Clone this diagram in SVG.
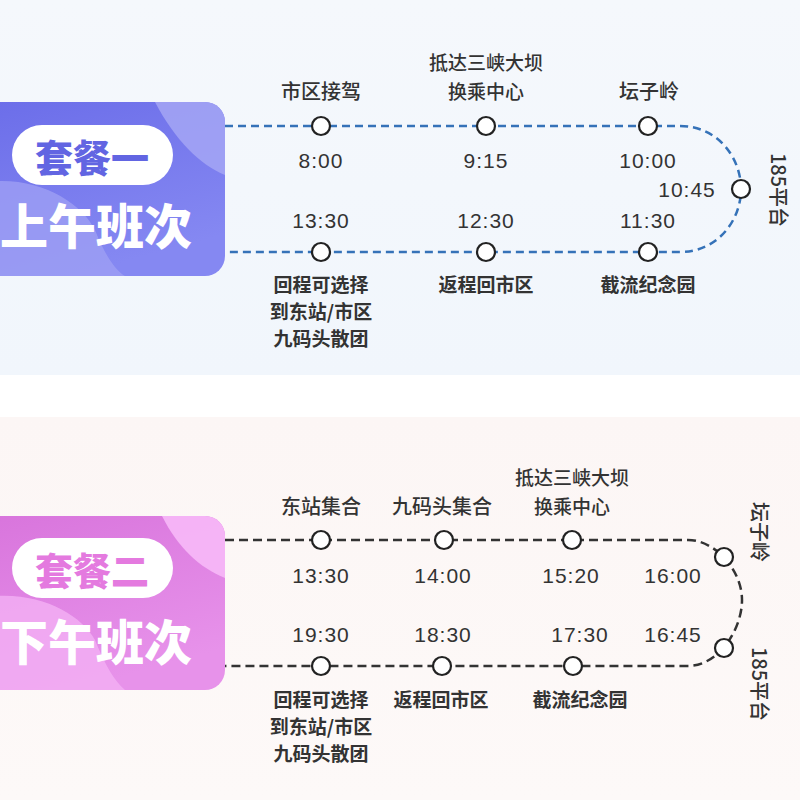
<svg xmlns="http://www.w3.org/2000/svg" width="800" height="800" viewBox="0 0 800 800">
<defs>
<linearGradient id="bgTop" x1="0" y1="0" x2="0" y2="1"><stop offset="0" stop-color="#f5f8fc"/><stop offset="1" stop-color="#f1f6fc"/></linearGradient>
<linearGradient id="bgBot" x1="0" y1="0" x2="0" y2="1"><stop offset="0" stop-color="#fcf6f5"/><stop offset="1" stop-color="#fdf9f8"/></linearGradient>
<linearGradient id="cardA" x1="0" y1="0" x2="0.4" y2="1"><stop offset="0" stop-color="#6b6de9"/><stop offset="1" stop-color="#8588f2"/></linearGradient>
<linearGradient id="cardB" x1="0" y1="0" x2="0.4" y2="1"><stop offset="0" stop-color="#d874dc"/><stop offset="1" stop-color="#e792ea"/></linearGradient>
<clipPath id="clipA"><rect x="-30" y="102" width="255" height="174" rx="20"/></clipPath>
<clipPath id="clipB"><rect x="-30" y="516" width="255" height="174" rx="20"/></clipPath>
<style>
.lbl{font-family:"Noto Sans CJK SC","Noto Sans",sans-serif;font-size:20px;fill:#333;text-anchor:middle;font-weight:500}
.lbl2{font-family:"Noto Sans CJK SC","Noto Sans",sans-serif;font-size:19px;fill:#333;text-anchor:middle;font-weight:500}
.sub{font-family:"Noto Sans CJK SC","Noto Sans",sans-serif;font-size:19px;fill:#333;text-anchor:middle;font-weight:700}
.tm{font-family:"Liberation Sans","DejaVu Sans",sans-serif;font-size:21px;fill:#333;text-anchor:middle;letter-spacing:1px}
.stopA{fill:#fff;stroke:#222;stroke-width:2.2}
.lineA{fill:none;stroke:#3572b8;stroke-width:2.5;stroke-dasharray:8 5}
.lineB{fill:none;stroke:#333;stroke-width:2.5;stroke-dasharray:9 5}
.pill{fill:#fff}
.ttl{font-family:"Noto Sans CJK SC",sans-serif;font-weight:900;text-anchor:middle}
</style>
</defs>

<rect x="0" y="0" width="800" height="375" fill="url(#bgTop)"/>
<rect x="0" y="375" width="800" height="42" fill="#ffffff"/>
<rect x="0" y="417" width="800" height="383" fill="url(#bgBot)"/>

<!-- Card 1 -->
<g id="card-morning">
<g clip-path="url(#clipA)">
<rect x="-30" y="102" width="255" height="174" fill="url(#cardA)"/>
<path d="M155,102 C175,140 200,165 225,175 L225,102 Z" fill="#a4a6f4" opacity="0.85"/>
<path d="M-30,185 C30,170 80,200 95,230 C105,255 115,270 125,276 L-30,276 Z" fill="#9d9ff4" opacity="0.8"/>
</g>
<rect class="pill" x="12" y="125" width="161" height="60" rx="30"/>
<text class="ttl" x="92" y="172" font-size="38" fill="#6265e2">套餐一</text>
<text class="ttl" x="96" y="244" font-size="48" fill="#ffffff">上午班次</text>
</g>

<!-- Card 2 -->
<g id="card-afternoon">
<g clip-path="url(#clipB)">
<rect x="-30" y="516" width="255" height="174" fill="url(#cardB)"/>
<path d="M162,516 C178,548 200,568 225,578 L225,516 Z" fill="#f5b6f7" opacity="0.95"/>
<path d="M-30,600 C30,585 80,612 95,640 C105,665 115,682 125,690 L-30,690 Z" fill="#f2aef3" opacity="0.85"/>
</g>
<rect class="pill" x="12" y="538" width="161" height="60" rx="30"/>
<text class="ttl" x="92" y="585" font-size="38" fill="#e47adf">套餐二</text>
<text class="ttl" x="96" y="660" font-size="48" fill="#ffffff">下午班次</text>
</g>

<!-- Connectors -->
<g id="connectors">
<path class="lineA" d="M225,126 H680 C718,126 741,158 741,189 C741,220 718,252 680,252 H225"/>
<path class="lineB" d="M225,540 H688 C715,540 742,570 742,600 C742,630 718,666 688,666 H225"/>
</g>

<!-- Morning nodes -->
<g id="m-stop1">
<circle class="stopA" cx="321" cy="126" r="9"/>
<text class="lbl" x="321" y="99">市区接驾</text>
<text class="tm" x="321" y="168">8:00</text>
</g>
<g id="m-stop2">
<circle class="stopA" cx="486" cy="126" r="9"/>
<text class="lbl2" x="486" y="70">抵达三峡大坝</text>
<text class="lbl2" x="486" y="99">换乘中心</text>
<text class="tm" x="486" y="168">9:15</text>
</g>
<g id="m-stop3">
<circle class="stopA" cx="648" cy="126" r="9"/>
<text class="lbl" x="649" y="99">坛子岭</text>
<text class="tm" x="648" y="168">10:00</text>
</g>
<g id="m-stop4">
<circle class="stopA" cx="741" cy="189" r="9"/>
<text class="tm" x="687" y="197">10:45</text>
<text class="lbl" transform="translate(771,190) rotate(90)" x="0" y="0" font-size="21">185平台</text>
</g>
<g id="m-stop5">
<circle class="stopA" cx="648" cy="252" r="9"/>
<text class="tm" x="648" y="228">11:30</text>
<text class="sub" x="648" y="292">截流纪念园</text>
</g>
<g id="m-stop6">
<circle class="stopA" cx="486" cy="252" r="9"/>
<text class="tm" x="486" y="228">12:30</text>
<text class="sub" x="486" y="292">返程回市区</text>
</g>
<g id="m-stop7">
<circle class="stopA" cx="321" cy="252" r="9"/>
<text class="tm" x="321" y="228">13:30</text>
<text class="sub" x="321" y="292">回程可选择</text>
<text class="sub" x="321" y="319">到东站/市区</text>
<text class="sub" x="321" y="346">九码头散团</text>
</g>

<!-- Afternoon nodes -->
<g id="a-stop1">
<circle class="stopA" cx="321" cy="540" r="9"/>
<text class="lbl" x="321" y="514">东站集合</text>
<text class="tm" x="321" y="583">13:30</text>
</g>
<g id="a-stop2">
<circle class="stopA" cx="444" cy="540" r="9"/>
<text class="lbl" x="442" y="514">九码头集合</text>
<text class="tm" x="443" y="583">14:00</text>
</g>
<g id="a-stop3">
<circle class="stopA" cx="572" cy="540" r="9"/>
<text class="lbl2" x="572" y="485">抵达三峡大坝</text>
<text class="lbl2" x="572" y="514">换乘中心</text>
<text class="tm" x="571" y="583">15:20</text>
</g>
<g id="a-stop4">
<circle class="stopA" cx="724" cy="557" r="9"/>
<text class="tm" x="673" y="583">16:00</text>
<text class="lbl" transform="translate(752,532) rotate(90)" x="0" y="0" font-size="21">坛子岭</text>
</g>
<g id="a-stop5">
<circle class="stopA" cx="724" cy="648" r="9"/>
<text class="tm" x="673" y="642">16:45</text>
<text class="lbl" transform="translate(752,684) rotate(90)" x="0" y="0" font-size="21">185平台</text>
</g>
<g id="a-stop6">
<circle class="stopA" cx="573" cy="666" r="9"/>
<text class="tm" x="580" y="642">17:30</text>
<text class="sub" x="580" y="707">截流纪念园</text>
</g>
<g id="a-stop7">
<circle class="stopA" cx="442" cy="666" r="9"/>
<text class="tm" x="443" y="642">18:30</text>
<text class="sub" x="441" y="707">返程回市区</text>
</g>
<g id="a-stop8">
<circle class="stopA" cx="321" cy="666" r="9"/>
<text class="tm" x="321" y="642">19:30</text>
<text class="sub" x="321" y="707">回程可选择</text>
<text class="sub" x="321" y="734">到东站/市区</text>
<text class="sub" x="321" y="761">九码头散团</text>
</g>
</svg>
